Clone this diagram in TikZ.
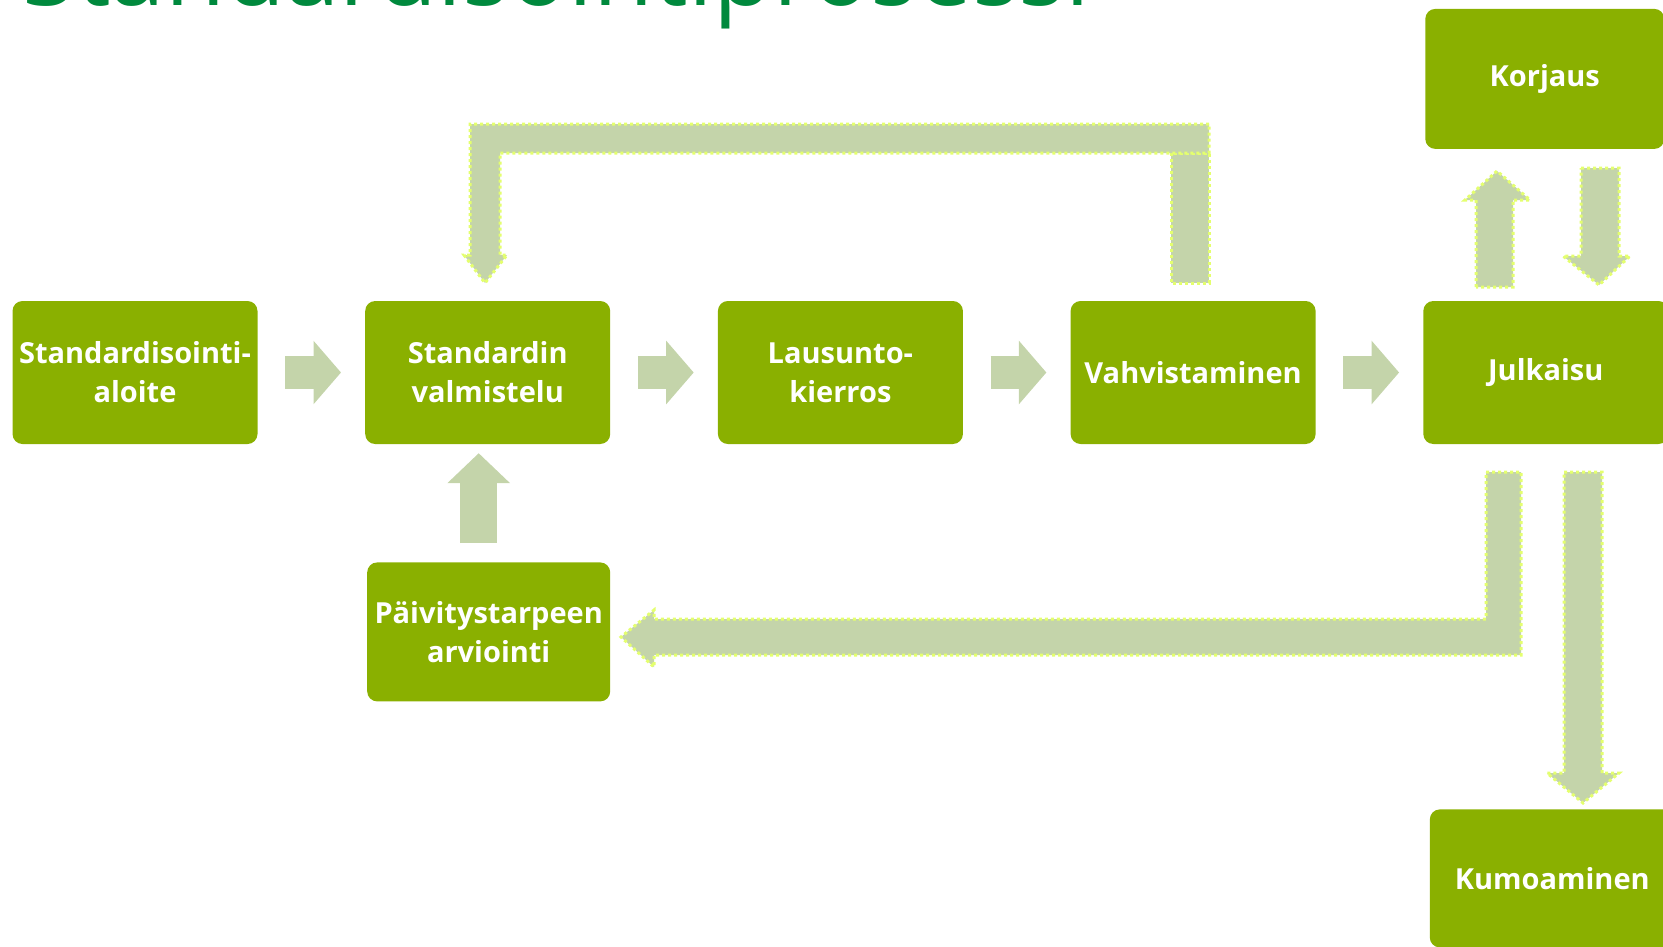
\documentclass[tikz,border=0pt]{standalone}
\usepackage{fontspec}
\setmainfont{Open Sans}
\usetikzlibrary{positioning, arrows.meta}

\definecolor{boxgreen}{RGB}{138,176,0}
\definecolor{sage}{RGB}{196,212,170}
\definecolor{dotlime}{RGB}{228,255,110}
\definecolor{titlegreen}{RGB}{0,137,61}

\tikzset{
    stage/.style={rectangle, rounded corners=10pt, fill=boxgreen,
        text=white, font=\fontsize{29}{39}\selectfont\bfseries,
        align=center, inner sep=0pt,
        minimum width=245pt, minimum height=143pt},
    flow/.style={sage, line width=33pt,
        -{Triangle[length=27.5pt,width=62pt]},
        shorten <=27.5pt, shorten >=24pt},
    loopback/.style={fill=sage, draw=dotlime, line width=3pt,
        dash pattern=on 3pt off 3pt}
}

\begin{document}
\begin{tikzpicture}[x=1pt, y=-1pt, node distance=107.3pt]

    \clip (0,0) rectangle (1663,946);

    \node[anchor=base west, text=titlegreen, inner sep=0pt,
        font=\fontsize{98}{110}\selectfont]
        (title) at (22,5) {Standardisointiprosessi};

    \node[stage] (aloite) at (135,372.5) {Standardisointi-\\aloite};
    \node[stage, right=of aloite] (valmistelu) {Standardin\\valmistelu};
    \node[stage, right=of valmistelu] (lausunto) {Lausunto-\\kierros};
    \node[stage, right=of lausunto] (vahvistus) {Vahvistaminen};
    \node[stage, right=of vahvistus] (julkaisu) {Julkaisu};
    \node[stage, above=151.7pt of julkaisu, xshift=-1pt,
        minimum width=239pt, minimum height=140pt]
        (korjaus) {Korjaus};
    \node[stage, below=365pt of julkaisu, xshift=6.5pt,
        minimum height=138pt]
        (kumoaminen) {Kumoaminen};
    \node[stage, below=118pt of valmistelu, xshift=1pt,
        minimum width=243pt, minimum height=139pt]
        (arviointi) {Päivitystarpeen\\arviointi};

    \draw[flow] (aloite) -- (valmistelu);
    \draw[flow] (valmistelu) -- (lausunto);
    \draw[flow] (lausunto) -- (vahvistus);
    \draw[flow] (vahvistus) -- (julkaisu);
    \draw[flow, line width=37pt, -{Triangle[length=30pt,width=61pt]},
        shorten <=19pt, shorten >=9pt]
        ([xshift=-10pt]arviointi.north) -- ([xshift=-9pt]valmistelu.south);

    \draw[loopback] (1171,153) rectangle (1209,283);
    \draw[loopback] (1209,124) -- (470,124) -- (470,255) -- (464,255)
        -- (485,283) -- (507,255) -- (500,255) -- (500,153)
        -- (1209,153) -- cycle;

    \draw[loopback] (1476,287) -- (1476,200) -- (1465,200) -- (1497,171)
        -- (1530,200) -- (1513,200) -- (1513,287) -- cycle;
    \draw[loopback] (1581,168) -- (1619,168) -- (1619,256) -- (1630,256)
        -- (1599,285) -- (1563,256) -- (1581,256) -- cycle;

    \draw[loopback] (1486,472) -- (1521,472) -- (1521,655) -- (654,655)
        -- (654,667) -- (621,637) -- (654,610) -- (654,619)
        -- (1486,619) -- cycle;
    \draw[loopback] (1564,472) -- (1602,472) -- (1602,773) -- (1619,773)
        -- (1583,803) -- (1547,773) -- (1564,773) -- cycle;

\end{tikzpicture}
\end{document}
